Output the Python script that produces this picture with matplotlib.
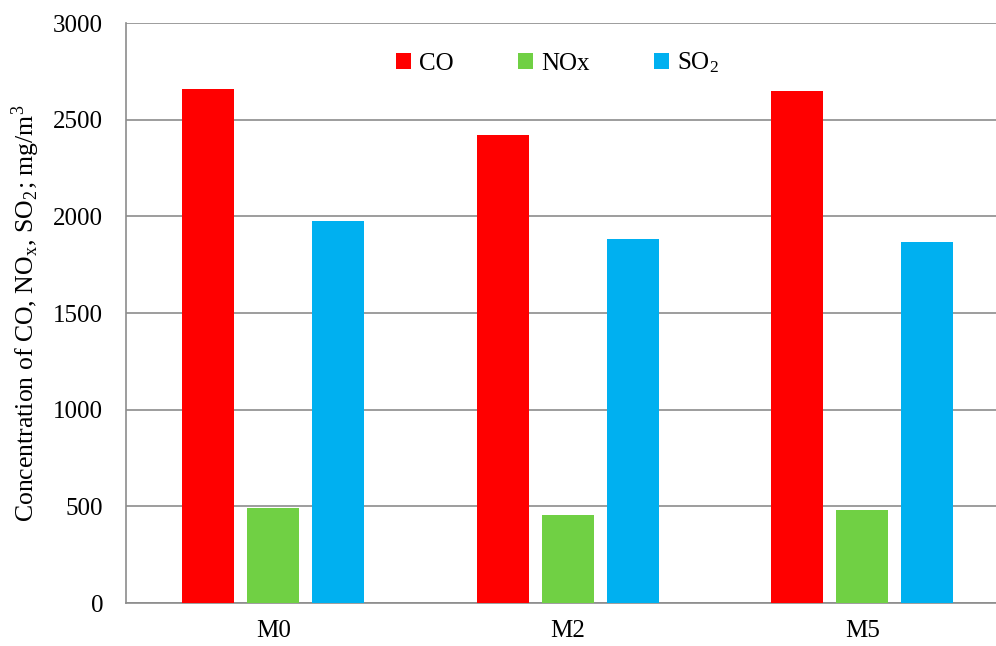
import matplotlib
matplotlib.use("Agg")
import matplotlib.pyplot as plt
import numpy as np

categories = ["M0", "M2", "M5"]
co = [2660, 2420, 2650]
nox = [492, 455, 481]
so2 = [1978, 1883, 1866]
series_labels = ["CO", "NOx", r"SO$_\mathregular{2}$"]
colors = ["#FF0000", "#70D044", "#00B0F0"]
yticks = [0, 500, 1000, 1500, 2000, 2500, 3000]

plt.rcParams["font.family"] = ["Liberation Serif", "DejaVu Serif"]
plt.rcParams["mathtext.fontset"] = "stix"

fig = plt.figure(figsize=(9.96, 6.46), dpi=100)
ax = fig.add_axes([126 / 996, 43 / 646, 870 / 996, 580 / 646])

x = np.arange(len(categories))
width = 0.177
offset = 0.221
for i, (vals, lab, col) in enumerate(zip([co, nox, so2], series_labels, colors)):
    ax.bar(x + (i - 1) * offset, vals, width, color=col, label=lab, zorder=3)

ax.set_xlim(-0.5, 2.454)
ax.set_ylim(0, 3000)
ax.set_yticks(yticks)
ax.set_yticklabels([str(v) for v in yticks], fontsize=18)
ax.set_xticks(x)
ax.set_xticklabels(categories, fontsize=18)
ax.tick_params(axis="y", length=0, pad=16.5)
ax.tick_params(axis="x", length=0, pad=12.5)
ax.yaxis.grid(True, color="#8C8C8C", linewidth=1.2, zorder=0)
for side in ["top", "right"]:
    ax.spines[side].set_visible(False)
for side in ["left", "bottom"]:
    ax.spines[side].set_color("#8C8C8C")
    ax.spines[side].set_linewidth(1.2)

ax.set_ylabel(r"Concentration of CO, NO$_\mathregular{x}$, SO$_\mathregular{2}$; mg/m$^\mathregular{3}$",
              fontsize=18.5, labelpad=8)

leg = ax.legend(loc="upper center", bbox_to_anchor=(0.496, 0.991), ncol=3, frameon=False,
                fontsize=18, handlelength=0.6, handleheight=0.6, handletextpad=0.35,
                columnspacing=2.55)

fig.savefig("out.png", dpi=100)
